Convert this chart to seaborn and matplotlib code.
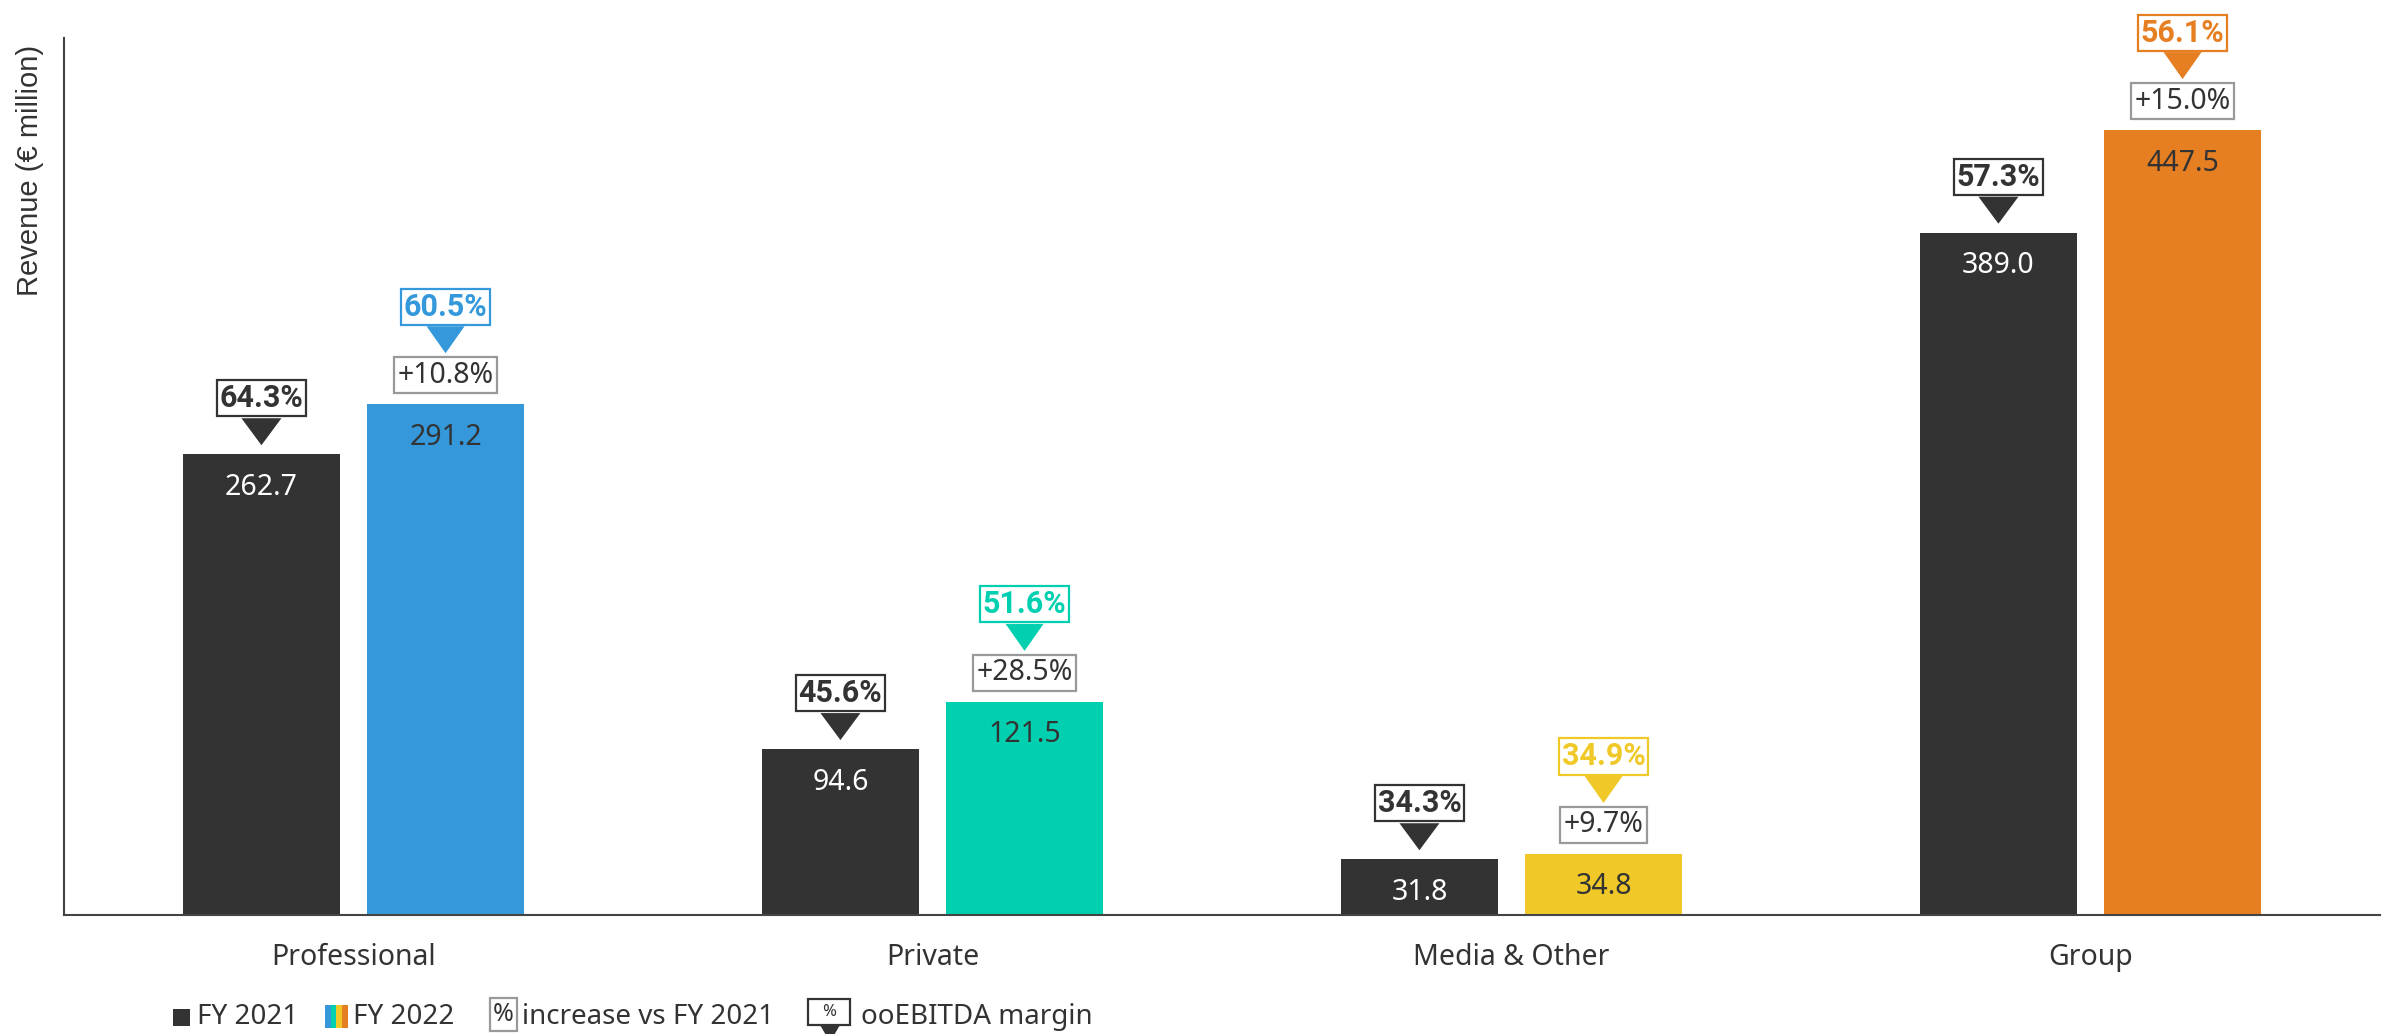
import numpy as np
import pandas as pd
import seaborn as sns
import matplotlib
matplotlib.use("Agg")
import matplotlib.pyplot as plt
from matplotlib.patches import Polygon, Rectangle
from matplotlib.transforms import ScaledTranslation

# ---------------- data ----------------
segments = ["Professional", "Private", "Media & Other", "Group"]
years = ["FY 2021", "FY 2022"]
rev_2021 = [262.7, 94.6, 31.8, 389.0]
rev_2022 = [291.2, 121.5, 34.8, 447.5]
margin_2021 = ["64.3%", "45.6%", "34.3%", "57.3%"]
margin_2022 = ["60.5%", "51.6%", "34.9%", "56.1%"]
increase = ["+10.8%", "+28.5%", "+9.7%", "+15.0%"]
colors_2022 = ["#3498DB", "#00CFB0", "#F0C929", "#E67E22"]
DARK = "#333333"
GRAY_BOX = "#999999"
TXT = "#333333"

W, H, DPI = 2395, 1034, 100

sns.set_theme(style="white")
plt.rcParams["font.family"] = ["Noto Sans", "DejaVu Sans"]

fig = plt.figure(figsize=(W / DPI, H / DPI), dpi=DPI)
ax = fig.add_axes([64 / W, 1 - 915 / H, (2380 - 64) / W, (915 - 38) / H])

df = pd.DataFrame({
    "segment": segments * 2,
    "year": [years[0]] * len(segments) + [years[1]] * len(segments),
    "revenue": rev_2021 + rev_2022,
})

sns.barplot(data=df, x="segment", y="revenue", hue="year", order=segments,
            hue_order=years, palette=[DARK, colors_2022[0]], width=0.636,
            gap=0.145, saturation=1, legend=False, errorbar=None,
            linewidth=0, ax=ax)

# recolor FY 2022 bars per segment
for p, c in zip(ax.containers[1], colors_2022):
    p.set_facecolor(c)

ax.set_ylim(0, 500)
ax.set_xlim(-0.5, 3.5)
ax.set_xlabel("")
ax.set_ylabel("")
ax.set_yticks([])
ax.tick_params(axis="x", length=0, pad=20, labelsize=20.5, labelcolor=TXT)
for s in ["top", "right"]:
    ax.spines[s].set_visible(False)
for s in ["left", "bottom"]:
    ax.spines[s].set_color("#444444")
    ax.spines[s].set_linewidth(1.5)

fig.text(30 / W, 1 - 170 / H, "Revenue (€ million)", rotation=90, ha="center",
         va="center", fontsize=21, color=TXT,
         family=["Liberation Sans", "DejaVu Sans"])


def triangle(x, y, base_off, tip_off, width_px, color):
    trans = fig.dpi_scale_trans + ScaledTranslation(x, y, ax.transData)
    verts = [(-width_px / 2 / DPI, base_off / DPI),
             (width_px / 2 / DPI, base_off / DPI),
             (0, tip_off / DPI)]
    ax.add_patch(Polygon(verts, closed=True, fc=color, ec="none",
                         transform=trans, clip_on=False, zorder=4))


def boxed(x, y, off, text, color, ec, bold=False):
    if bold:
        kw = dict(fontweight="bold", family=["Roboto", "DejaVu Sans"], fontsize=22)
        pad = 0.1
    else:
        kw = dict(fontsize=20.5)
        pad = 0.13
    ax.annotate(text, xy=(x, y), xytext=(0, off), textcoords="offset pixels",
                ha="center", va="center", color=color, zorder=5,
                annotation_clip=False,
                bbox=dict(boxstyle=f"square,pad={pad}", fc="white", ec=ec, lw=1.6),
                **kw)


# FY 2021 annotations
for i, p in enumerate(ax.containers[0]):
    x = p.get_x() + p.get_width() / 2
    h = p.get_height()
    ax.annotate(f"{h:.1f}", xy=(x, h), xytext=(0, -33), textcoords="offset pixels",
                ha="center", va="center", fontsize=20.5, color="white")
    triangle(x, h, 36, 9, 40, DARK)
    boxed(x, h, 56, margin_2021[i], DARK, DARK, bold=True)

# FY 2022 annotations
for i, p in enumerate(ax.containers[1]):
    x = p.get_x() + p.get_width() / 2
    h = p.get_height()
    c = colors_2022[i]
    ax.annotate(f"{h:.1f}", xy=(x, h), xytext=(0, -33), textcoords="offset pixels",
                ha="center", va="center", fontsize=20.5, color=TXT)
    boxed(x, h, 29, increase[i], TXT, GRAY_BOX)
    triangle(x, h, 78, 51, 38, c)
    boxed(x, h, 97.5, margin_2022[i], c, c, bold=True)

# ---------------- legend (figure pixel coordinates) ----------------
def fx(px):
    return px / W


def fy(py):
    return 1 - py / H


LEG_Y = 1017
fig.patches.append(Rectangle((fx(173), fy(1026)), 17 / W, 17 / H, fc=DARK, ec="none",
                             transform=fig.transFigure, figure=fig))
fig.text(fx(197), fy(LEG_Y), "FY 2021", ha="left", va="center", fontsize=20, color=TXT)

stripe_w = 23 / 4
for k, c in enumerate(colors_2022):
    fig.patches.append(Rectangle((fx(325 + k * stripe_w), fy(1028)), stripe_w / W, 23 / H,
                                 fc=c, ec="none", transform=fig.transFigure, figure=fig))
fig.text(fx(353), fy(LEG_Y), "FY 2022", ha="left", va="center", fontsize=20, color=TXT)

fig.patches.append(Rectangle((fx(490), fy(1031)), 27 / W, 33 / H, fc="white", ec=GRAY_BOX,
                             lw=1.6, transform=fig.transFigure, figure=fig))
fig.text(fx(503.5), fy(1014.5), "%", ha="center", va="center", fontsize=18, color=TXT)
fig.text(fx(522), fy(LEG_Y), "increase vs FY 2021", ha="left", va="center",
         fontsize=20, color=TXT)

fig.patches.append(Rectangle((fx(808), fy(1025)), 42 / W, 26 / H, fc="white", ec=DARK,
                             lw=1.6, transform=fig.transFigure, figure=fig))
fig.patches.append(Polygon([(fx(820), fy(1025)), (fx(840), fy(1025)), (fx(830), fy(1042))],
                           closed=True, fc=DARK, ec="none", transform=fig.transFigure,
                           figure=fig))
fig.text(fx(829), fy(1012), "%", ha="center", va="center", fontsize=12, color=TXT)
fig.text(fx(861), fy(LEG_Y), "ooEBITDA margin", ha="left", va="center",
         fontsize=20, color=TXT)

fig.savefig("out.png", dpi=DPI)
